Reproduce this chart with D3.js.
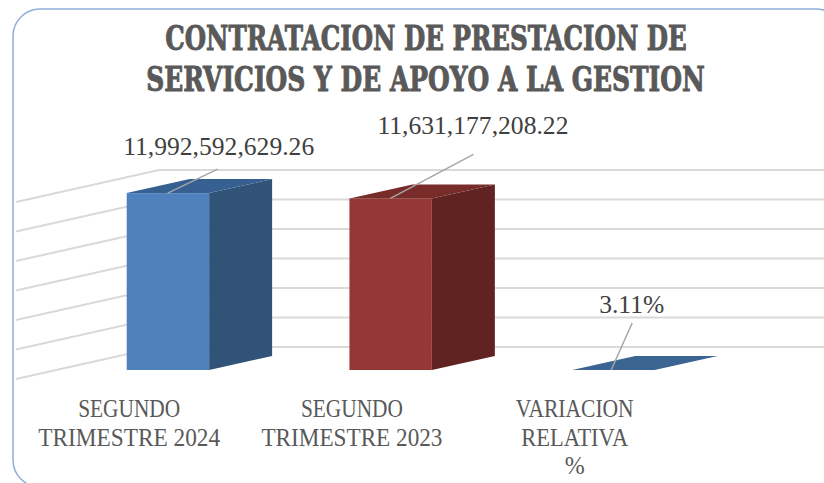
<!DOCTYPE html>
<html>
<head>
<meta charset="utf-8">
<script src="https://cdn.jsdelivr.net/npm/d3@7"></script>
<style>
  html, body { margin: 0; padding: 0; background: #fff; }
  svg { display: block; }
  text { font-family: "Liberation Serif", serif; }
</style>
</head>
<body>
<svg id="chart" width="824" height="483"></svg>
<script>
// chart data
const categories = ["SEGUNDO TRIMESTRE 2024", "SEGUNDO TRIMESTRE 2023", "VARIACION RELATIVA %"];
const categoryLines = [["SEGUNDO", "TRIMESTRE 2024"], ["SEGUNDO", "TRIMESTRE 2023"], ["VARIACION", "RELATIVA", "%"]];
const values = [11992592629.26, 11631177208.22, 0.0311];
const valueLabels = ["11,992,592,629.26", "11,631,177,208.22", "3.11%"];
const titleLines = ["CONTRATACION DE PRESTACION DE", "SERVICIOS Y DE APOYO A LA GESTION"];
const yTicks = [0, 2e9, 4e9, 6e9, 8e9, 10e9, 12e9];

const svg = d3.select("#chart");

// outer frame, runs off the right and bottom of the picture
svg.append("rect")
    .attr("x", 13)
    .attr("y", 9)
    .attr("width", 830)
    .attr("height", 478)
    .attr("rx", 27)
    .attr("fill", "#fff")
    .attr("stroke", "#8eaedb")
    .attr("stroke-width", 1.5);

// bars sit on a floor, the oblique offset is the fake 3d depth
const depthX = 63, depthY = -14;
const baseY = 370;

const x = d3.scaleBand()
    .domain(categories)
    .range([126.7, 654.6])
    .paddingInner(0.63);

const y = d3.scaleLinear()
    .domain([0, 12e9])
    .range([baseY, baseY - 177]);

// walls: gridlines come from the front edge to the back corner, then go flat
const wallLeft = 16, wallCorner = 159, wallBack = -23, wallDrop = 32;

svg.append("g")
    .selectAll("polyline")
    .data(yTicks)
    .join("polyline")
    .attr("points", t => {
        const back = y(t) + wallBack;
        return [[wallLeft, back + wallDrop], [wallCorner, back], [824, back]].join(" ");
    })
    .attr("fill", "none")
    .attr("stroke", "#d9d9d9")
    .attr("stroke-width", 2);

const faceColors = [
    { front: "#4f81bd", side: "#315378", top: "#376092" },
    { front: "#953735", side: "#612321", top: "#772c2a" },
    { front: "#4f81bd", side: "#315378", top: "#3a6492" }
];

const bars = svg.append("g")
    .selectAll("g")
    .data(categories.map((c, i) => ({ c, i, v: values[i] })))
    .join("g");

bars.append("polygon")
    .attr("points", d => {
        const r = x(d.c) + x.bandwidth();
        return [[r, baseY], [r + depthX, baseY + depthY], [r + depthX, y(d.v) + depthY], [r, y(d.v)]].join(" ");
    })
    .attr("fill", d => faceColors[d.i].side);

bars.append("rect")
    .attr("x", d => x(d.c))
    .attr("y", d => y(d.v))
    .attr("width", x.bandwidth())
    .attr("height", d => baseY - y(d.v))
    .attr("fill", d => faceColors[d.i].front);

bars.append("polygon")
    .attr("points", d => {
        const l = x(d.c), r = l + x.bandwidth(), t = y(d.v);
        return [[l, t], [l + depthX, t + depthY], [r + depthX, t + depthY], [r, t]].join(" ");
    })
    .attr("fill", d => faceColors[d.i].top);

// leader lines and data labels, placed relative to each bar top
const leaders = [
    { from: 41, dx: 50, dy: -24, tx: 92, ty: -38, w: 191 },
    { from: 41, dx: 83, dy: -44, tx: 123.5, ty: -64, w: 191 },
    { from: 39, dx: 21, dy: -47, tx: 59.5, ty: -57, w: 65 }
];

bars.append("line")
    .attr("x1", d => x(d.c) + leaders[d.i].from)
    .attr("y1", d => y(d.v))
    .attr("x2", d => x(d.c) + leaders[d.i].from + leaders[d.i].dx)
    .attr("y2", d => y(d.v) + leaders[d.i].dy)
    .attr("stroke", "#a6a6a6")
    .attr("stroke-width", 1.5);

bars.append("text")
    .attr("x", d => x(d.c) + leaders[d.i].tx)
    .attr("y", d => y(d.v) + leaders[d.i].ty)
    .attr("text-anchor", "middle")
    .attr("font-size", 25)
    .attr("fill", "#404040")
    .attr("textLength", d => leaders[d.i].w)
    .attr("lengthAdjust", "spacingAndGlyphs")
    .text(d => valueLabels[d.i]);

// category labels, centred on the front left edge of the bars
const catLineWidths = [[102, 182], [102, 181], [118, 107, 20]];

categories.forEach((c, i) => {
    svg.append("g")
        .selectAll("text")
        .data(categoryLines[i])
        .join("text")
        .attr("x", x(c) + 2.5)
        .attr("y", (d, j) => 417 + j * 28.5)
        .attr("text-anchor", "middle")
        .attr("font-size", 25)
        .attr("fill", "#595959")
        .attr("textLength", (d, j) => catLineWidths[i][j])
        .attr("lengthAdjust", "spacingAndGlyphs")
        .text(d => d);
});

// title, squeezed to width with a transform because the slab font runs wide
const titleSpans = [
    { x: 426, y: 50, w: 522 },
    { x: 425.5, y: 91, w: 559 }
];

svg.append("g")
    .selectAll("text")
    .data(titleLines)
    .join("text")
    .attr("text-anchor", "middle")
    .style("font-family", '"DejaVu Serif", serif')
    .attr("font-size", 34)
    .attr("font-weight", "bold")
    .attr("fill", "#595959")
    .attr("stroke", "#595959")
    .attr("stroke-width", 1)
    .text(d => d)
    .attr("transform", function(d, i) {
        const s = titleSpans[i];
        return `translate(${s.x},${s.y}) scale(${s.w / this.getComputedTextLength()},1)`;
    });
</script>
</body>
</html>
